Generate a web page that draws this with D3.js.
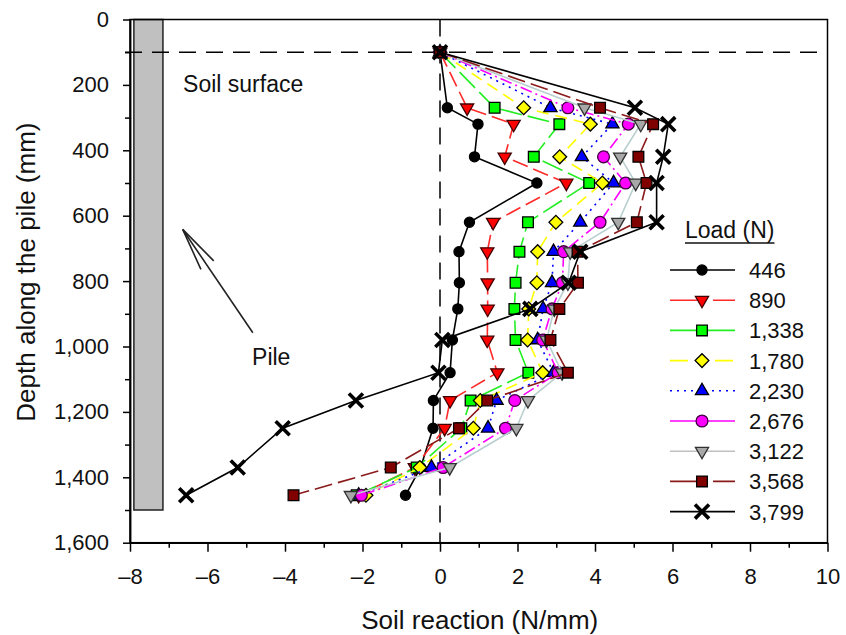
<!DOCTYPE html>
<html>
<head>
<meta charset="utf-8">
<script src="https://cdn.jsdelivr.net/npm/d3@7"></script>
<style>
  html, body { margin: 0; padding: 0; background: #fff; }
  svg { display: block; font-family: "Liberation Sans", Arial, sans-serif; }
</style>
</head>
<body>
<svg id="chart" width="846" height="635"></svg>
<script>
// Depth of each measuring point along the pile (mm)
const depths = [100, 270, 320, 420, 500, 620, 710, 805, 885, 980, 1080, 1165, 1250, 1370, 1455];

// Soil reaction (N/mm) at each depth, one array per applied load
const load446  = [0, 0.19, 0.98, 0.89, 2.50, 0.76, 0.49, 0.50, 0.46, 0.32, 0.26, -0.17, -0.18, -0.50, -0.89];
const load890  = [0, 0.70, 1.90, 1.67, 3.26, 1.37, 1.22, 1.23, 1.23, 1.22, 1.48, 0.26, 0.12, -0.65, -2.10];
const load1338 = [0, 1.41, 3.08, 2.42, 3.85, 2.27, 2.05, 1.95, 1.92, 1.95, 2.28, 0.79, 0.55, -0.60, -2.15];
const load1780 = [0, 2.16, 3.88, 3.09, 4.19, 2.99, 2.52, 2.50, 2.29, 2.26, 2.65, 1.04, 0.86, -0.52, -1.91];
const load2230 = [0, 2.85, 4.45, 3.66, 4.48, 3.62, 2.93, 2.89, 2.66, 2.52, 2.93, 1.46, 1.24, -0.22, -2.10];
const load2676 = [0, 3.30, 4.86, 4.22, 4.79, 4.13, 3.19, 3.16, 2.89, 2.65, 3.05, 1.93, 1.69, 0.08, -2.03];
const load3122 = [0, 3.73, 5.18, 4.65, 5.05, 4.60, 3.36, 3.30, 2.95, 2.75, 3.15, 2.27, 1.97, 0.25, -2.30];
const load3568 = [0, 4.13, 5.50, 5.12, 5.33, 5.08, 3.55, 3.56, 3.08, 2.85, 3.30, 1.22, 0.49, -1.27, -3.78];
const load3799 = [0, 5.03, 5.89, 5.76, 5.59, 5.59, 3.62, 3.32, 2.33, 0.06, -0.04, -2.17, -4.06, -5.22, -6.55];

const loadLabels = ["446", "890", "1,338", "1,780", "2,230", "2,676", "3,122", "3,568", "3,799"];
const loadValues = [load446, load890, load1338, load1780, load2230, load2676, load3122, load3568, load3799];

// Axis ticks
const xMajorTicks = [-8, -6, -4, -2, 0, 2, 4, 6, 8, 10];
const xMinorTicks = [-7, -5, -3, -1, 1, 3, 5, 7, 9];
const yMajorTicks = [0, 200, 400, 600, 800, 1000, 1200, 1400, 1600];
const yMinorTicks = [100, 300, 500, 700, 900, 1100, 1300, 1500];

// Ground level and pile outline (reaction units, mm)
const soilSurfaceDepth = 100;
const pileX = [-7.9, -7.15];
const pileDepth = [0, 1500];

// Line / marker styling per load
const styles = [
  { color: "#000000", dash: null,          legendDash: null,       marker: "circle",   fill: "#000000", stroke: "#000000", size: 80 },
  { color: "#ff2a2a", dash: "16,6",        legendDash: "27,16",    marker: "triDown",  fill: "#ff0000", stroke: "#400000", size: 75 },
  { color: "#22ee22", dash: "22,6",        legendDash: null,       marker: "square",   fill: "#00ff00", stroke: "#000000", size: 115 },
  { color: "#ffff00", dash: "12,7",        legendDash: "18,27",    marker: "diamond",  fill: "#ffff00", stroke: "#000000", size: 95 },
  { color: "#0000ff", dash: "2,5",         legendDash: "2,5",      marker: "triUp",    fill: "#0000ff", stroke: "#000000", size: 75 },
  { color: "#ff00ff", dash: "12,4,2,4",    legendDash: null,       marker: "circle",   fill: "#ff00ff", stroke: "#400040", size: 110 },
  { color: "#b9cfcf", dash: null,          legendDash: null,       marker: "triDown",  fill: "#a8a8a8", stroke: "#303030", size: 75 },
  { color: "#8b1a1a", dash: "18,6",        legendDash: "27,16",    marker: "square",   fill: "#800000", stroke: "#000000", size: 115 },
  { color: "#000000", dash: null,          legendDash: null,       marker: "times",    fill: "none",    stroke: "#000000", size: 130 }
];

const svg = d3.select("#chart");
const x = d3.scaleLinear().domain([-8, 10]).range([130, 827.5]);
const y = d3.scaleLinear().domain([0, 1600]).range([19.5, 542.7]);

function markerPath(s) {
  switch (s.marker) {
    case "circle":  return d3.symbol(d3.symbolCircle, s.size)();
    case "triDown": return d3.symbol(d3.symbolTriangle, s.size)();
    case "triUp":   return d3.symbol(d3.symbolTriangle, s.size)();
    case "square":  return d3.symbol(d3.symbolSquare, s.size)();
    case "diamond": return d3.symbol(d3.symbolSquare, s.size)();
    case "times":   return d3.symbol(d3.symbolTimes, s.size)();
  }
}
function markerRotate(s) {
  if (s.marker === "triDown") return 180;
  if (s.marker === "diamond") return 45;
  return 0;
}
function drawMarker(g, s, cx, cy) {
  const p = g.append("path")
    .attr("d", markerPath(s))
    .attr("transform", `translate(${cx},${cy}) rotate(${markerRotate(s)})`);
  if (s.marker === "times") {
    p.attr("fill", "none").attr("stroke", "#000").attr("stroke-width", 3.6);
  } else {
    p.attr("fill", s.fill).attr("stroke", s.stroke).attr("stroke-width", 1.3);
  }
}

// Pile
svg.append("rect")
  .attr("x", x(pileX[0])).attr("y", y(pileDepth[0]))
  .attr("width", x(pileX[1]) - x(pileX[0]))
  .attr("height", y(pileDepth[1]) - y(pileDepth[0]))
  .attr("fill", "#c0c0c0").attr("stroke", "#222").attr("stroke-width", 1.5);

// Soil surface and zero-reaction reference lines
svg.append("line")
  .attr("x1", x(-8) - 5).attr("x2", x(10))
  .attr("y1", y(soilSurfaceDepth)).attr("y2", y(soilSurfaceDepth))
  .attr("stroke", "#000").attr("stroke-width", 1.5).attr("stroke-dasharray", "17,10");
svg.append("line")
  .attr("x1", x(0)).attr("x2", x(0))
  .attr("y1", y(0)).attr("y2", y(1600))
  .attr("stroke", "#000").attr("stroke-width", 1.5).attr("stroke-dasharray", "17,10");

// Frame
svg.append("rect")
  .attr("x", x(-8)).attr("y", y(0))
  .attr("width", x(10) - x(-8)).attr("height", y(1600) - y(0))
  .attr("fill", "none").attr("stroke", "#000").attr("stroke-width", 1.5);

// Axes
const fmtX = v => v < 0 ? "\u2013" + Math.abs(v) : String(v);
const fmtY = d3.format(",");
const axisFont = 22;

svg.append("g").attr("transform", `translate(0,${y(1600)})`)
  .call(d3.axisBottom(x).tickValues(xMajorTicks).tickFormat(fmtX).tickSizeInner(9).tickSizeOuter(0).tickPadding(17));
svg.append("g").attr("transform", `translate(0,${y(1600)})`)
  .call(d3.axisBottom(x).tickValues(xMinorTicks).tickFormat("").tickSizeInner(5).tickSizeOuter(0));
svg.append("g").attr("transform", `translate(${x(-8)},0)`)
  .call(d3.axisLeft(y).tickValues(yMajorTicks).tickFormat(fmtY).tickSizeInner(7).tickSizeOuter(0).tickPadding(14));
svg.append("g").attr("transform", `translate(${x(-8)},0)`)
  .call(d3.axisLeft(y).tickValues(yMinorTicks).tickFormat("").tickSizeInner(5).tickSizeOuter(0));

svg.selectAll(".domain").attr("stroke", "#000").attr("stroke-width", 1.5);
svg.selectAll(".tick line").attr("stroke", "#000").attr("stroke-width", 1.5);
svg.selectAll(".tick text").attr("font-size", axisFont).attr("fill", "#111")
  .attr("font-family", "'Liberation Sans', Arial, sans-serif");

// Axis titles
svg.append("text")
  .attr("x", (x(-8) + x(10)) / 2 + 1).attr("y", 629)
  .attr("text-anchor", "middle").attr("font-size", 26).attr("fill", "#111")
  .text("Soil reaction (N/mm)");
svg.append("text")
  .attr("transform", `translate(35,${(y(0) + y(1600)) / 2 - 9}) rotate(-90)`)
  .attr("text-anchor", "middle").attr("font-size", 26).attr("fill", "#111")
  .text("Depth along the pile (mm)");

// Annotations
svg.append("text").attr("x", x(-6.63)).attr("y", y(222))
  .attr("font-size", 23).attr("fill", "#111").text("Soil surface");
svg.append("text").attr("x", x(-4.85)).attr("y", y(1056))
  .attr("font-size", 23).attr("fill", "#111").text("Pile");

const arrowTip = [-6.64, 642], arrowTail = [-4.83, 958];
const arrowHeadA = [-6.17, 764], arrowHeadB = [-5.84, 738];
const arrowG = svg.append("g").attr("stroke", "#222").attr("stroke-width", 1.6).attr("fill", "none");
arrowG.append("line")
  .attr("x1", x(arrowTail[0])).attr("y1", y(arrowTail[1]))
  .attr("x2", x(arrowTip[0])).attr("y2", y(arrowTip[1]));
arrowG.append("polyline")
  .attr("points", [arrowHeadA, arrowTip, arrowHeadB].map(p => `${x(p[0])},${y(p[1])}`).join(" "));

// Series lines and markers
const line = d3.line().x(d => x(d[0])).y(d => y(d[1]));
loadValues.forEach((vals, i) => {
  const s = styles[i];
  const pts = vals.map((v, k) => [v, depths[k]]);
  const g = svg.append("g");
  g.append("path").datum(pts).attr("d", line)
    .attr("fill", "none").attr("stroke", s.color).attr("stroke-width", 1.6)
    .attr("stroke-dasharray", s.dash);
  pts.forEach(p => drawMarker(g, s, x(p[0]), y(p[1])));
});

// Legend
const legendX0 = 670, legendX1 = 735, legendMarkX = 702, legendTextX = 749;
const legendRow0 = 270, legendStep = 30.2;
const legendTitle = svg.append("text").attr("x", 685).attr("y", 238)
  .attr("font-size", 23).attr("fill", "#111").text("Load (N)");
const tb = legendTitle.node().getBBox();
svg.append("line").attr("x1", tb.x).attr("x2", tb.x + tb.width)
  .attr("y1", 243).attr("y2", 243).attr("stroke", "#111").attr("stroke-width", 1.5);

loadLabels.forEach((lab, i) => {
  const s = styles[i];
  const cy = legendRow0 + i * legendStep;
  const g = svg.append("g");
  g.append("line").attr("x1", legendX0).attr("x2", legendX1).attr("y1", cy).attr("y2", cy)
    .attr("stroke", s.color === "#b9cfcf" ? "#c0c0c0" : s.color).attr("stroke-width", 1.6)
    .attr("stroke-dasharray", s.legendDash);
  drawMarker(g, s, legendMarkX, cy);
  g.append("text").attr("x", legendTextX).attr("y", cy + 8)
    .attr("font-size", 22).attr("fill", "#111").text(lab);
});
</script>
</body>
</html>
